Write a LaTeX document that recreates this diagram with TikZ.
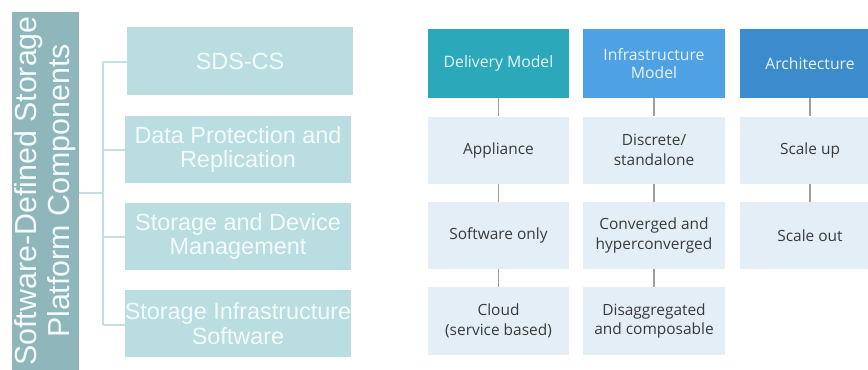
\documentclass[tikz,border=0pt]{standalone}
\usepackage{fontspec}
\setmainfont{Liberation Sans}
\newfontfamily\opensans{Open Sans}
\definecolor{barc}{HTML}{8FB6BA}
\definecolor{leftbox}{HTML}{B9DDE0}
\definecolor{lefttxt}{HTML}{F4FBFB}
\definecolor{leftline}{HTML}{C5DFE1}
\definecolor{delc}{HTML}{2BA8B9}
\definecolor{infc}{HTML}{4EA1E2}
\definecolor{arcc}{HTML}{3B8BCD}
\definecolor{lightbox}{HTML}{E3EEF6}
\definecolor{headtxt}{HTML}{E8F4F7}
\definecolor{bodytxt}{HTML}{3A3A3A}
\definecolor{rline}{HTML}{9E9E9E}
\begin{document}
\begin{tikzpicture}[x=1bp,y=-1bp,
  lbox/.style={fill=leftbox,draw=none,minimum width=226bp,minimum height=67bp,inner sep=0pt,
    align=center,text=lefttxt,font=\fontsize{23.5}{24.5}\selectfont},
  hbox/.style={draw=none,minimum width=141bp,minimum height=69bp,inner sep=0pt,
    align=center,text=headtxt,font=\opensans\fontsize{15.8}{18.5}\selectfont},
  cbox/.style={fill=lightbox,draw=none,minimum width=141bp,minimum height=67bp,inner sep=0pt,
    align=center,text=bodytxt,font=\opensans\fontsize{15.5}{19.5}\selectfont},
  lline/.style={draw=leftline,line width=1.2bp},
  rconn/.style={draw=rline,line width=1.4bp}]
\clip (0,0) rectangle (868,369);
\fill[white] (0,0) rectangle (868,369);
% left bar
\node[fill=barc,minimum width=67bp,minimum height=360bp,inner sep=0pt,anchor=north west] (bar) at (12,12) {};
\node[rotate=90,text=lefttxt,align=center,font=\fontsize{30.5}{33}\selectfont] (bartxt) at (45.5,191) {Software-Defined Storage\\Platform Components};
% left boxes
\node[lbox,minimum height=68bp] (sds) at (240,61) {SDS-CS};
\node[lbox] (dp) at (238,149.5) {Data Protection and\\Replication};
\node[lbox] (sd) at (238,236.5) {Storage and Device\\Management};
\node[lbox] (si) at (238,323.5) {Storage Infrastructure\\Software};
% left connectors
\coordinate (trunk) at (103,193);
\coordinate (top) at (103,62);
\coordinate (bot) at (103,325);
\draw[lline] (bar.east |- trunk) -- (trunk);
\draw[lline] (top) -- (bot);
\draw[lline] (top) -- (top -| sds.west);
\draw[lline] (103,150) -- (dp.west |- 0,150);
\draw[lline] (103,237) -- (sd.west |- 0,237);
\draw[lline] (bot) -- (bot -| si.west);
% right headers
\node[hbox,fill=delc] (dm) at (498.5,63.5) {Delivery Model};
\node[hbox,fill=infc,minimum width=142bp] (im) at (654,63.5) {Infrastructure\\Model};
\node[hbox,fill=arcc] (ar) at (810,63.5) {Architecture};
% row 2
\node[cbox] (ap) at (498.5,150) {Appliance};
\node[cbox,minimum width=142bp] (ds) at (654,150) {Discrete/\\standalone};
\node[cbox] (su) at (810,150) {Scale up};
% row 3
\node[cbox] (so) at (498.5,235.5) {Software only};
\node[cbox,minimum width=142bp] (ch) at (654,235.5) {Converged and\\hyperconverged};
\node[cbox] (sc) at (810,235.5) {Scale out};
% row 4
\node[cbox,minimum height=68bp] (cl) at (498.5,321) {Cloud\\(service based)};
\node[cbox,minimum width=142bp,minimum height=68bp] (da) at (654,321) {Disaggregated\\and composable};
% right connectors
\draw[rconn] (dm.south) -- (ap.north);
\draw[rconn] (ap.south) -- (so.north);
\draw[rconn] (so.south) -- (cl.north);
\draw[rconn] (im.south) -- (ds.north);
\draw[rconn] (ds.south) -- (ch.north);
\draw[rconn] (ch.south) -- (da.north);
\draw[rconn] (ar.south) -- (su.north);
\draw[rconn] (su.south) -- (sc.north);
\end{tikzpicture}
\end{document}
